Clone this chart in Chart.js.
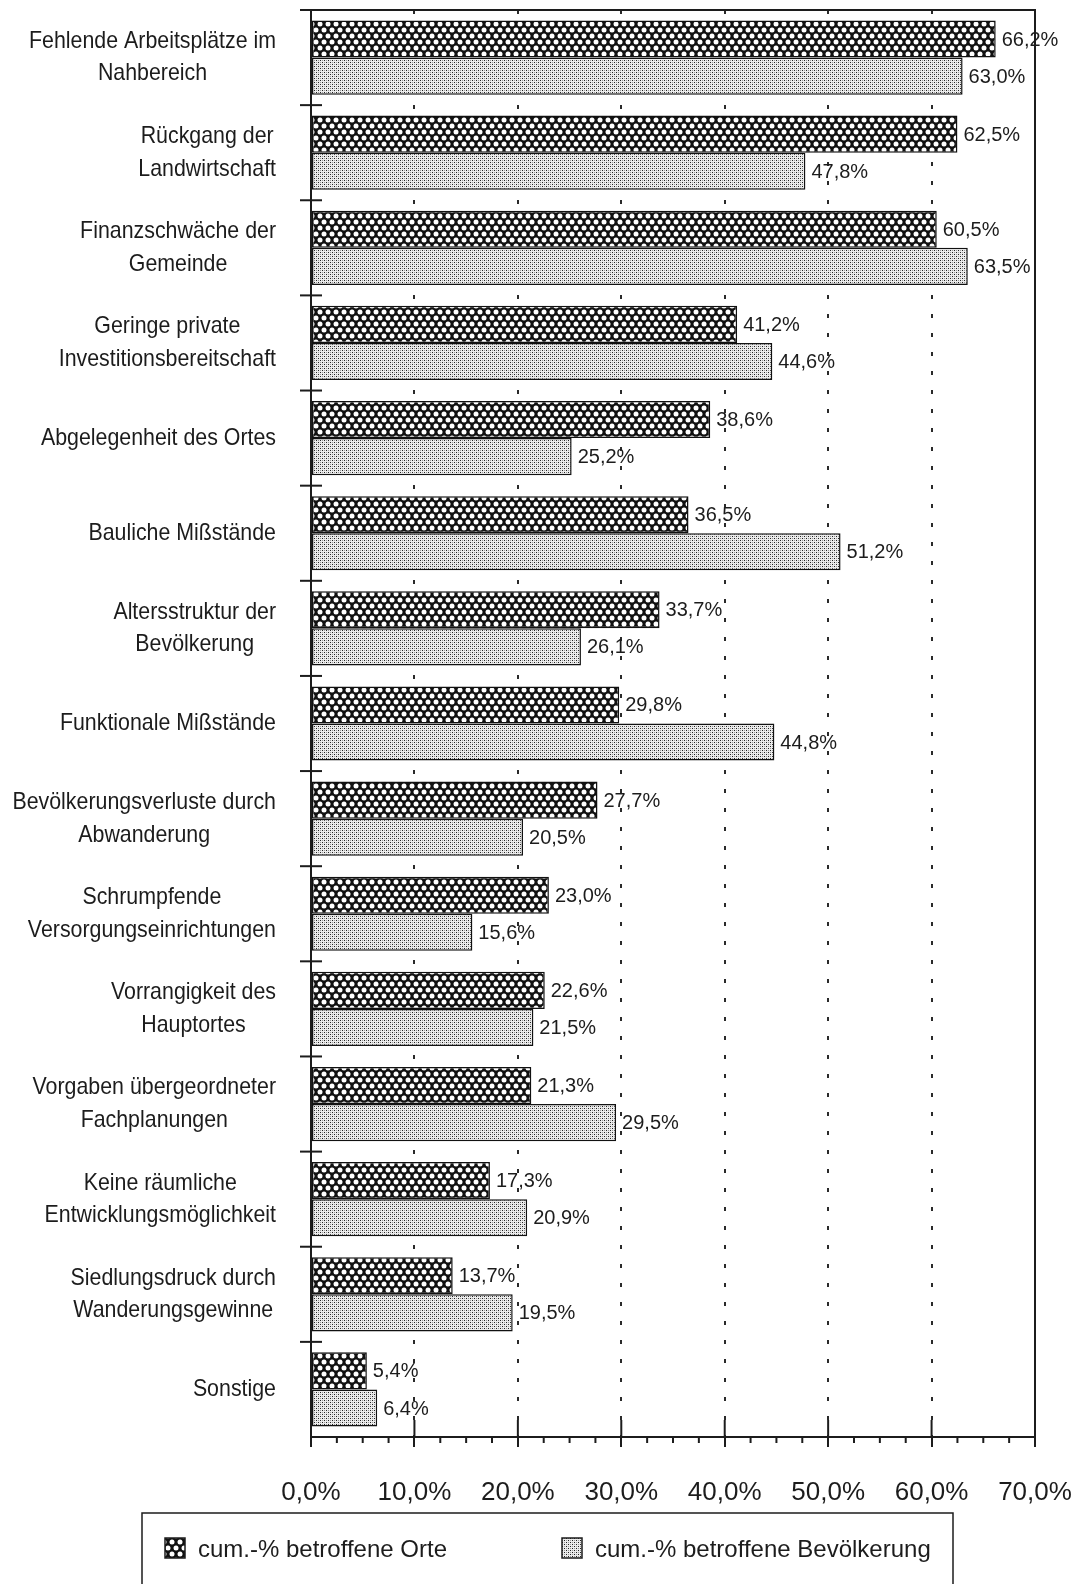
<!DOCTYPE html>
<html>
<head>
<meta charset="utf-8">
<script src="https://cdn.jsdelivr.net/npm/chart.js@4.4.1/dist/chart.umd.min.js"></script>
<style>
  html, body { margin: 0; padding: 0; background: #fff; }
  #wrap { width: 1081px; height: 1584px; }
</style>
</head>
<body>
<div id="wrap"><canvas id="chart" width="1081" height="1584"></canvas></div>
<script>
const categories = [
  ["Fehlende Arbeitsplätze im", "Nahbereich"],
  ["Rückgang der", "Landwirtschaft"],
  ["Finanzschwäche der", "Gemeinde"],
  ["Geringe private", "Investitionsbereitschaft"],
  ["Abgelegenheit des Ortes"],
  ["Bauliche Mißstände"],
  ["Altersstruktur der", "Bevölkerung"],
  ["Funktionale Mißstände"],
  ["Bevölkerungsverluste durch", "Abwanderung"],
  ["Schrumpfende", "Versorgungseinrichtungen"],
  ["Vorrangigkeit des", "Hauptortes"],
  ["Vorgaben übergeordneter", "Fachplanungen"],
  ["Keine räumliche", "Entwicklungsmöglichkeit"],
  ["Siedlungsdruck durch", "Wanderungsgewinne"],
  ["Sonstige"]
];
const orteValues = [66.2, 62.5, 60.5, 41.2, 38.6, 36.5, 33.7, 29.8, 27.7, 23.0, 22.6, 21.3, 17.3, 13.7, 5.4];
const bevoelkerungValues = [63.0, 47.8, 63.5, 44.6, 25.2, 51.2, 26.1, 44.8, 20.5, 15.6, 21.5, 29.5, 20.9, 19.5, 6.4];
const seriesLabels = ["cum.-% betroffene Orte", "cum.-% betroffene Bevölkerung"];
const xMax = 70;
const xStep = 10;
const xMinorStep = 2.5;

const ink = "#1c1c1c";

function pct(v) {
  return v.toFixed(1).replace(".", ",") + "%";
}

// crosshatch: white round holes on black
function crossPattern() {
  const c = document.createElement("canvas");
  c.width = 8; c.height = 12;
  const g = c.getContext("2d");
  g.fillStyle = "#111";
  g.fillRect(0, 0, 8, 12);
  g.fillStyle = "#fff";
  [[0, 0], [8, 0], [0, 12], [8, 12], [4, 6]].forEach(([cx, cy]) => {
    g.beginPath();
    g.arc(cx, cy, 2.5, 0, Math.PI * 2);
    g.fill();
  });
  return g.createPattern(c, "repeat");
}

// fine stipple
function dotPattern() {
  const c = document.createElement("canvas");
  c.width = 4; c.height = 4;
  const g = c.getContext("2d");
  g.fillStyle = "#ececec";
  g.fillRect(0, 0, 4, 4);
  g.fillStyle = "#222";
  g.fillRect(0, 0, 1, 1);
  g.fillRect(2, 2, 1, 1);
  g.fillStyle = "#999";
  g.fillRect(2, 0, 1, 1);
  g.fillRect(0, 2, 1, 1);
  return g.createPattern(c, "repeat");
}

function line(ctx, x1, y1, x2, y2) {
  ctx.beginPath();
  ctx.moveTo(x1, y1);
  ctx.lineTo(x2, y2);
  ctx.stroke();
}

const decorations = {
  id: "decorations",
  afterDraw(chart) {
    const { ctx, chartArea: a, scales: { x, y } } = chart;
    ctx.save();
    ctx.strokeStyle = ink;
    ctx.lineWidth = 2;
    // top and right frame
    ctx.beginPath();
    ctx.moveTo(a.left, a.top);
    ctx.lineTo(a.right, a.top);
    ctx.lineTo(a.right, a.bottom);
    ctx.stroke();

    // major ticks reach up into the plot, minor ones below the axis
    for (let v = 0; v <= xMax; v += xMinorStep) {
      const px = x.getPixelForValue(v);
      if (v % xStep === 0) line(ctx, px, a.bottom - 17, px, a.bottom);
      else line(ctx, px, a.bottom, px, a.bottom + 6);
    }

    // category boundary stubs across the left axis
    for (let i = 0; i < categories.length; i++) {
      const py = y.getPixelForValue(i - 0.5);
      line(ctx, a.left - 11, py, a.left + 11, py);
    }

    // category labels: block right aligned, lines centred, narrow face
    ctx.fillStyle = ink;
    ctx.font = "24px 'Liberation Sans', Arial, sans-serif";
    ctx.textBaseline = "middle";
    ctx.textAlign = "center";
    const squeeze = 0.89;
    const right = 276;
    const lh = 32.5;
    categories.forEach((lines, i) => {
      const cy = y.getPixelForValue(i);
      const w = squeeze * Math.max(...lines.map((t) => ctx.measureText(t).width));
      const cx = right - w / 2;
      const y0 = cy - ((lines.length - 1) * lh) / 2;
      lines.forEach((t, k) => {
        ctx.save();
        ctx.translate(cx, y0 + k * lh);
        ctx.scale(squeeze, 1);
        ctx.fillText(t, 0, 0);
        ctx.restore();
      });
    });

    // legend
    const ds = chart.data.datasets;
    ctx.lineWidth = 1.5;
    ctx.strokeRect(142, 1513, 811, 90);
    const items = [
      { box: 165, text: 198 },
      { box: 562, text: 595 },
    ];
    ctx.font = "24px 'Liberation Sans', Arial, sans-serif";
    ctx.textAlign = "left";
    items.forEach((it, i) => {
      ctx.fillStyle = ds[i].backgroundColor;
      ctx.fillRect(it.box, 1538, 20, 20);
      ctx.strokeRect(it.box, 1538, 20, 20);
      ctx.fillStyle = ink;
      ctx.fillText(ds[i].label, it.text, 1550);
    });
    ctx.restore();
  },
};

const valueLabels = {
  id: "valueLabels",
  afterDatasetsDraw(chart) {
    const { ctx } = chart;
    ctx.save();
    ctx.fillStyle = ink;
    ctx.font = "20px 'Liberation Sans', Arial, sans-serif";
    ctx.textBaseline = "middle";
    ctx.textAlign = "left";
    chart.data.datasets.forEach((d, i) => {
      chart.getDatasetMeta(i).data.forEach((bar, j) => {
        ctx.fillText(pct(d.data[j]), bar.x + 6, bar.y + 1);
      });
    });
    ctx.restore();
  },
};

new Chart(document.getElementById("chart").getContext("2d"), {
  type: "bar",
  data: {
    labels: categories,
    datasets: [
      {
        label: seriesLabels[0],
        data: orteValues,
        backgroundColor: crossPattern(),
        borderColor: "#111",
        borderWidth: 1.5,
        borderSkipped: false,
      },
      {
        label: seriesLabels[1],
        data: bevoelkerungValues,
        backgroundColor: dotPattern(),
        borderColor: "#111",
        borderWidth: 1.5,
        borderSkipped: false,
      },
    ],
  },
  options: {
    indexAxis: "y",
    responsive: false,
    animation: false,
    categoryPercentage: 0.78,
    barPercentage: 1.0,
    layout: { padding: { top: 10, right: 46, bottom: 0, left: 0 } },
    plugins: {
      legend: { display: false },
      tooltip: { enabled: false },
    },
    scales: {
      x: {
        min: 0,
        max: xMax,
        afterFit: (scale) => {
          scale.height = 147;
          scale.paddingLeft = 0;
          scale.paddingRight = 0;
        },
        ticks: {
          stepSize: xStep,
          color: ink,
          padding: 30,
          font: { family: "'Liberation Sans', Arial, sans-serif", size: 26 },
          callback: (v) => pct(v),
        },
        grid: {
          color: (c) => (c.tick && (c.tick.value === 0 || c.tick.value === xMax) ? "rgba(0,0,0,0)" : "#2a2a2a"),
          lineWidth: 2,
          tickColor: ink,
          tickWidth: 2,
          tickLength: 10,
        },
        border: { display: true, color: ink, width: 2, dash: [4, 15] },
      },
      y: {
        afterFit: (scale) => { scale.width = 311; },
        ticks: { display: false },
        grid: { display: false },
        border: { display: true, color: ink, width: 2 },
      },
    },
  },
  plugins: [valueLabels, decorations],
});
</script>
</body>
</html>
